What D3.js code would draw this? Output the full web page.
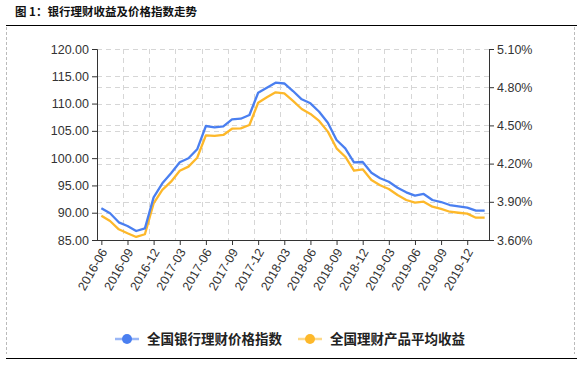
<!DOCTYPE html>
<html><head><meta charset="utf-8">
<script src="https://cdn.jsdelivr.net/npm/d3@7"></script>
<style>
html,body{margin:0;padding:0;background:#fff;}
svg{display:block;}
</style></head>
<body>
<svg id="c" width="583" height="367"></svg>
<script>
const months = ["2016-06","2016-07","2016-08","2016-09","2016-10","2016-11","2016-12","2017-01","2017-02","2017-03","2017-04","2017-05","2017-06","2017-07","2017-08","2017-09","2017-10","2017-11","2017-12","2018-01","2018-02","2018-03","2018-04","2018-05","2018-06","2018-07","2018-08","2018-09","2018-10","2018-11","2018-12","2019-01","2019-02","2019-03","2019-04","2019-05","2019-06","2019-07","2019-08","2019-09","2019-10","2019-11","2019-12","2020-01","2020-02"];
const priceIndex = [90.81,89.89,88.24,87.56,86.65,87.14,92.82,95.39,97.22,99.24,99.97,101.62,105.89,105.65,105.83,107.12,107.23,107.91,111.99,112.91,113.82,113.68,112.3,110.78,110.05,108.51,106.49,103.32,101.8,99.24,99.29,97.33,96.31,95.68,94.58,93.74,93.12,93.43,92.33,91.96,91.41,91.17,90.92,90.37,90.37];
const avgYield = [3.791,3.749,3.684,3.653,3.624,3.645,3.888,3.993,4.058,4.144,4.176,4.246,4.422,4.417,4.425,4.474,4.477,4.503,4.678,4.721,4.760,4.751,4.692,4.629,4.590,4.535,4.451,4.320,4.254,4.144,4.155,4.071,4.030,4.001,3.953,3.914,3.893,3.901,3.862,3.844,3.822,3.814,3.807,3.775,3.775];
const leftTicks = [85,90,95,100,105,110,115,120];
const rightTicks = [3.6,3.9,4.2,4.5,4.8,5.1];
const xTickLabels = ["2016-06","2016-09","2016-12","2017-03","2017-06","2017-09","2017-12","2018-03","2018-06","2018-09","2018-12","2019-03","2019-06","2019-09","2019-12"];
const seriesNames = ["全国银行理财价格指数","全国理财产品平均收益"];
const titleText = "图 1：银行理财收益及价格指数走势";

const svg = d3.select("#c");
const L = 97, R = 489, T = 49, B = 240;
const blue = "#4a7ff0", orange = "#fdb82a";
const numFont = "'Liberation Sans', Arial, sans-serif";
const cjk = "'Noto Sans CJK SC', sans-serif";

const x = d3.scaleBand().domain(months).range([L, R]).padding(0);
const yL = d3.scaleLinear().domain([85, 120]).range([B, T]);
const yR = d3.scaleLinear().domain([3.6, 5.1]).range([B, T]);

// title
svg.append("text").attr("x", 15).attr("y", 16).text(titleText)
  .attr("font-family", cjk).attr("font-size", 11.5).attr("font-weight", 700).attr("fill", "#111");
svg.append("line").attr("x1", 6).attr("x2", 577).attr("y1", 25.5).attr("y2", 25.5).attr("stroke", "#000").attr("stroke-width", 1);
svg.append("line").attr("x1", 6).attr("x2", 577).attr("y1", 358.5).attr("y2", 358.5).attr("stroke", "#000").attr("stroke-width", 1);
// outer dashed frame
[6.5, 574.5].forEach(xx => svg.append("line").attr("x1", xx).attr("x2", xx).attr("y1", 27).attr("y2", 354)
  .attr("stroke", "#bbb").attr("stroke-dasharray", "3,2").attr("stroke-width", 1));

// grid
const g = svg.append("g");
const gridStyle = sel => sel.attr("stroke", "#d6d6d6").attr("stroke-width", 1).attr("stroke-dasharray", "5,4");
leftTicks.filter(v => v > 85).forEach(v => gridStyle(g.append("line").attr("x1", L).attr("x2", R)
  .attr("y1", Math.round(yL(v)) + 0.5).attr("y2", Math.round(yL(v)) + 0.5)));
rightTicks.filter(v => v > 3.6 && v < 5.1).forEach(v => gridStyle(g.append("line").attr("x1", L).attr("x2", R)
  .attr("y1", Math.round(yR(v)) + 0.5).attr("y2", Math.round(yR(v)) + 0.5)));
xTickLabels.slice(1).forEach(m => gridStyle(g.append("line").attr("x1", Math.round(x(m)) + 0.5).attr("x2", Math.round(x(m)) + 0.5)
  .attr("y1", T).attr("y2", B)));

// axes
const axL = svg.append("g").attr("transform", `translate(${L},0)`)
  .call(d3.axisLeft(yL).tickValues(leftTicks).tickFormat(d3.format(".2f")).tickSizeOuter(0).tickSize(5).tickPadding(3));
const axR = svg.append("g").attr("transform", `translate(${R},0)`)
  .call(d3.axisRight(yR).tickValues(rightTicks).tickFormat(d => d3.format(".2f")(d) + "%").tickSizeOuter(0).tickSize(5).tickPadding(3));
const xc = d3.scalePoint().domain(months).range([L + x.bandwidth()/2, R - x.bandwidth()/2]);
const axB = svg.append("g").attr("transform", `translate(0,${B})`)
  .call(d3.axisBottom(xc).tickValues(xTickLabels).tickSizeOuter(0).tickSize(5));
axB.select(".domain").remove();
svg.append("line").attr("x1", L).attr("x2", R + 0.5).attr("y1", B + 0.5).attr("y2", B + 0.5).attr("stroke", "#333");
[axL, axR, axB].forEach(a => {
  a.selectAll(".domain").attr("stroke", "#333");
  a.selectAll(".tick line").attr("stroke", "#333");
  a.selectAll("text").attr("font-family", numFont).attr("font-size", 12.5).attr("fill", "#333");
});
axB.selectAll("text").attr("text-anchor", "end").attr("dy", null)
  .attr("transform", "translate(3,10) rotate(-60)").attr("y", 0).attr("x", 0).attr("dominant-baseline", "middle");

// lines
const lineL = d3.line().x(d => xc(d[0])).y(d => yL(d[1]));
const lineR = d3.line().x(d => xc(d[0])).y(d => yR(d[1]));
svg.append("path").datum(months.map((m, i) => [m, avgYield[i]])).attr("d", lineR)
  .attr("fill", "none").attr("stroke", orange).attr("stroke-width", 2.3).attr("stroke-linejoin", "round");
svg.append("path").datum(months.map((m, i) => [m, priceIndex[i]])).attr("d", lineL)
  .attr("fill", "none").attr("stroke", blue).attr("stroke-width", 2.3).attr("stroke-linejoin", "round");

// legend
const leg = [{name: seriesNames[0], c: blue, lc: "#9ab7f6", x: 115}, {name: seriesNames[1], c: orange, lc: "#fdd98a", x: 298}];
leg.forEach(d => {
  const lg = svg.append("g").attr("transform", `translate(${d.x},339)`);
  lg.append("line").attr("x1", 0).attr("x2", 24).attr("stroke", d.lc).attr("stroke-width", 2.5);
  lg.append("circle").attr("cx", 12).attr("r", 5).attr("fill", d.c);
  lg.append("text").attr("x", 32).attr("y", 0).attr("dy", "0.36em").text(d.name)
    .attr("font-family", cjk).attr("font-size", 13.5).attr("font-weight", 700).attr("fill", "#222");
});
</script>
</body></html>
